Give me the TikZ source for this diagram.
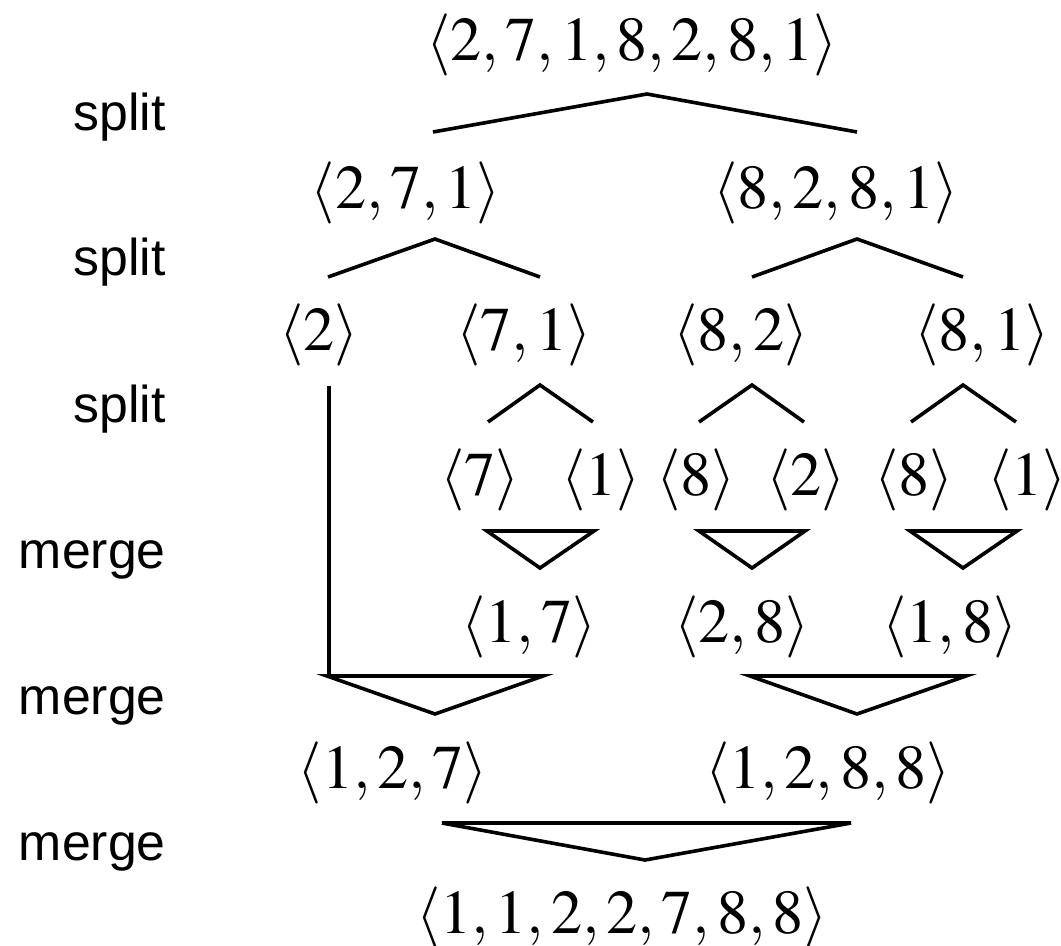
\documentclass[tikz,border=0pt]{standalone}
\usepackage{mathptmx}
\usepackage[no-math]{fontspec}
\newfontfamily\labelfont{Liberation Sans}
\begin{document}
\begin{tikzpicture}[x=1bp,y=-1bp,
  seq/.style={anchor=base, inner sep=0pt, font=\fontsize{62.5}{74}\selectfont},
  lab/.style={anchor=base east, inner sep=0pt, font=\labelfont\fontsize{52}{60}\selectfont},
  ln/.style={line width=3.6bp, line join=miter}]
\useasboundingbox[fill=white] (0,0) rectangle (1061,946);
% labels
\node[lab] (s1) at (166,130) {split};
\node[lab] (s2) at (166,275) {split};
\node[lab] (s3) at (166,422) {split};
\node[lab] (m1) at (166,568) {merge};
\node[lab] (m2) at (166,714) {merge};
\node[lab] (m3) at (166,860) {merge};
% sequences
\node[seq] (r1) at (632,60) {$\langle 2,7,1,8,2,8,1\rangle$};
\node[seq] (r2a) at (406,208) {$\langle 2,7,1\rangle$};
\node[seq] (r2b) at (836,208) {$\langle 8,2,8,1\rangle$};
\node[seq] (r3a) at (319,350) {$\langle 2\rangle$};
\node[seq] (r3b) at (524,350) {$\langle 7,1\rangle$};
\node[seq] (r3c) at (741,350) {$\langle 8,2\rangle$};
\node[seq] (r3d) at (982,350) {$\langle 8,1\rangle$};
\node[seq] (r4a) at (480,495) {$\langle 7\rangle$};
\node[seq] (r4b) at (601,495) {$\langle 1\rangle$};
\node[seq] (r4c) at (696,495) {$\langle 8\rangle$};
\node[seq] (r4d) at (806,495) {$\langle 2\rangle$};
\node[seq] (r4e) at (914,495) {$\langle 8\rangle$};
\node[seq] (r4f) at (1027,495) {$\langle 1\rangle$};
\node[seq] (r5a) at (529,642) {$\langle 1,7\rangle$};
\node[seq] (r5b) at (742,642) {$\langle 2,8\rangle$};
\node[seq] (r5c) at (950,642) {$\langle 1,8\rangle$};
\node[seq] (r6a) at (393,788) {$\langle 1,2,7\rangle$};
\node[seq] (r6b) at (828,788) {$\langle 1,2,8,8\rangle$};
\node[seq] (r7) at (622,933) {$\langle 1,1,2,2,7,8,8\rangle$};
% split wedges
\draw[ln] (433,132) -- (647,94) -- (857,132);
\draw[ln] (328,277) -- (435,239) -- (540,277);
\draw[ln] (752,277) -- (857,239) -- (963,277);
\draw[ln] (488,422) -- (540,385) -- (593,422);
\draw[ln] (699,422) -- (752,385) -- (804,422);
\draw[ln] (911,422) -- (963,385) -- (1016,422);
% merge triangles
\draw[ln] (487,531) -- (594,531) -- (540,568) -- cycle;
\draw[ln] (699,531) -- (805,531) -- (752,568) -- cycle;
\draw[ln] (910,531) -- (1017,531) -- (963,568) -- cycle;
\coordinate (v1) at (329,386);
\coordinate (v2) at (329,676);
\draw[ln] (v1) -- (v2);
\draw[ln] (327,676) -- (543,676) -- (435,714) -- cycle;
\draw[ln] (750,676) -- (966,676) -- (857,714) -- cycle;
\draw[ln] (442,823) -- (851,823) -- (645,860) -- cycle;
\end{tikzpicture}
\end{document}
